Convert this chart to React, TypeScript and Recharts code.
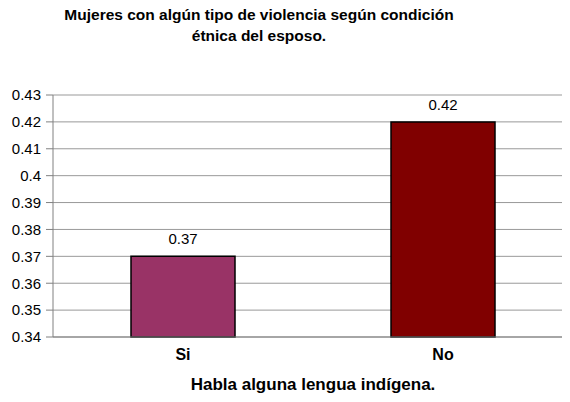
import { BarChart, Bar, XAxis, YAxis, CartesianGrid, Cell, LabelList } from "recharts";

const categories = ["Si", "No"];
const values = [0.37, 0.42];
const barColors = ["#993366", "#800000"];
const yTicks = [0.34, 0.35, 0.36, 0.37, 0.38, 0.39, 0.4, 0.41, 0.42, 0.43];

const title = ["Mujeres con algún tipo de violencia según condición", "étnica del esposo."];
const xTitle = "Habla alguna lengua indígena.";

const data = categories.map((name, i) => ({ name, value: values[i] }));

const font = "Arial, 'Liberation Sans', Helvetica, sans-serif";

export default function App() {
  return (
    <div
      style={{
        position: "relative",
        width: 570,
        height: 402,
        margin: -8,
        overflow: "hidden",
        background: "#fff",
        fontFamily: font,
      }}
    >
      <div
        style={{
          position: "absolute",
          top: 4,
          left: 0,
          width: 518,
          textAlign: "center",
          fontWeight: "bold",
          fontSize: 15.5,
          lineHeight: "21px",
          color: "#000",
        }}
      >
        {title[0]}
        <br />
        {title[1]}
      </div>
      <BarChart
        width={580}
        height={402}
        data={data}
        margin={{ top: 95, right: 7, bottom: 35, left: 0 }}
        barCategoryGap="30%"
      >
        <CartesianGrid vertical={false} stroke="#999" />
        <XAxis
          dataKey="name"
          height={30}
          stroke="#808080"
          tickLine={false}
          tick={{ fill: "#000", fontSize: 16, fontWeight: "bold", fontFamily: font }}
          tickMargin={6}
        />
        <YAxis
          width={53}
          domain={[0.34, 0.43]}
          ticks={yTicks}
          interval={0}
          stroke="#808080"
          tickSize={7}
          tickMargin={5}
          tick={{ fill: "#000", fontSize: 15, fontFamily: font }}
        />
        <Bar dataKey="value" isAnimationActive={false} stroke="#000" strokeWidth={1.5}>
          {data.map((d, i) => (
            <Cell key={d.name} fill={barColors[i]} />
          ))}
          <LabelList
            dataKey="value"
            position="top"
            offset={12}
            fill="#000"
            fontSize={15}
            fontFamily={font}
          />
        </Bar>
      </BarChart>
      <div
        style={{
          position: "absolute",
          top: 375,
          left: 53,
          width: 520,
          textAlign: "center",
          fontWeight: "bold",
          fontSize: 17,
          color: "#000",
        }}
      >
        {xTitle}
      </div>
    </div>
  );
}
